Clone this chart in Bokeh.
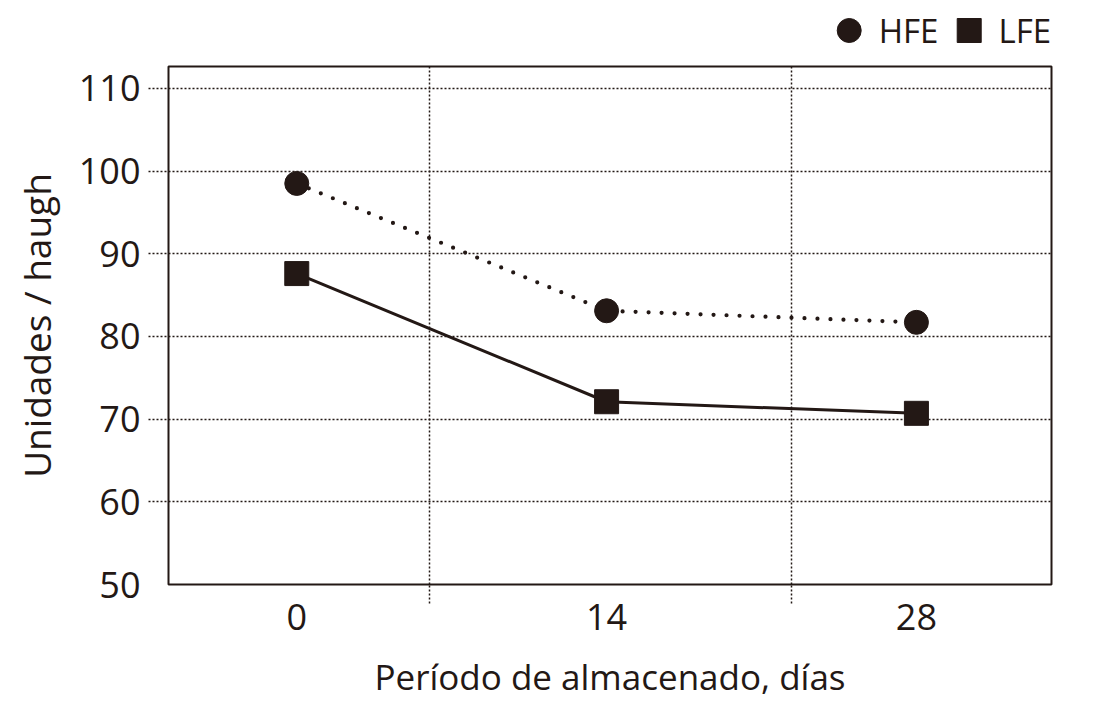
from bokeh.plotting import figure
from bokeh.layouts import column
from bokeh.models import LinearAxis, FixedTicker, Range1d, Legend, LegendItem
from bokeh.embed import file_html
from bokeh.resources import INLINE

# ---- data ----
days = ["0", "14", "28"]
hfe = [98.5, 83.1, 81.7]
lfe = [87.6, 72.1, 70.7]
y_ticks = [50, 60, 70, 80, 90, 100, 110]
series_names = ["HFE", "LFE"]

INK = "#231815"
FONT = "Open Sans"
GRID_X = [0.4285, 1.597]
x = list(range(len(days)))
W = 1070
LB, RB = 168, 19

p = figure(width=W, height=657, output_backend="svg", toolbar_location=None,
           x_range=Range1d(-0.414, 2.436), y_range=Range1d(50, 112.64),
           min_border_left=LB, min_border_right=RB, min_border_top=10,
           min_border_bottom=129)
p.background_fill_color = "white"
p.border_fill_color = "white"
p.outline_line_color = INK
p.outline_line_width = 2

# grids
p.xgrid.ticker = FixedTicker(ticks=GRID_X)
p.ygrid.ticker = FixedTicker(ticks=y_ticks[1:])
for g in (p.xgrid, p.ygrid):
    g.grid_line_color = INK
    g.grid_line_dash = "2 2"
    g.grid_line_width = 1.5

# tick-only axes (extension of the dotted grid lines)
ax = p.xaxis[0]
ax.ticker = FixedTicker(ticks=GRID_X)
ax.major_label_overrides = {t: "" for t in GRID_X}
ay = p.yaxis[0]
ay.ticker = FixedTicker(ticks=y_ticks[1:])
ay.major_label_overrides = {t: "" for t in y_ticks[1:]}
for a, out in ((ax, 19), (ay, 20)):
    a.major_tick_out = out
    a.major_tick_in = 0
    a.major_tick_line_dash = "2 2"
    a.major_tick_line_width = 1.5
    a.major_tick_line_color = INK
    a.minor_tick_line_color = None
    a.axis_line_color = None
    a.major_label_text_font_size = "1px"
    a.major_label_text_color = None
    a.major_label_standoff = 0

# label axes
xa2 = LinearAxis(ticker=FixedTicker(ticks=x),
                 major_label_overrides={i: d for i, d in zip(x, days)},
                 axis_label="Período de almacenado, días")
ya2 = LinearAxis(ticker=FixedTicker(ticks=y_ticks), axis_label="Unidades / haugh")
for a in (xa2, ya2):
    a.major_tick_out = 0
    a.major_tick_in = 0
    a.minor_tick_line_color = None
    a.axis_line_color = None
    a.major_tick_line_color = None
    a.major_label_text_font = FONT
    a.major_label_text_font_size = "36px"
    a.major_label_text_color = INK
    a.axis_label_text_font = FONT
    a.axis_label_text_font_style = "normal"
    a.axis_label_text_color = INK
xa2.axis_label_text_font_size = "35px"
ya2.axis_label_text_font_size = "37px"
xa2.major_label_standoff = 0
xa2.axis_label_standoff = 20
ya2.major_label_standoff = 8
ya2.axis_label_standoff = 14
p.add_layout(xa2, "below")
p.add_layout(ya2, "left")

# series
p.line(x, hfe, line_dash="0 13", line_cap="round", line_width=4.2, line_color=INK)
p.line(x, lfe, line_width=3, line_color=INK)
p.scatter(x, hfe, marker="circle", size=24, fill_color=INK, line_color=INK)
p.scatter(x, lfe, marker="square", size=24, fill_color=INK, line_color=INK)

# legend strip above the chart (swatch renderers sit outside the visible range)
lg = figure(width=W, height=56, output_backend="svg", toolbar_location=None,
            x_axis_type=None, y_axis_type=None,
            x_range=Range1d(0, 1), y_range=Range1d(0, 1),
            min_border_left=LB, min_border_right=RB, min_border_top=0,
            min_border_bottom=0)
lg.outline_line_color = None
lg.grid.visible = False
lg.background_fill_color = "white"
lg.border_fill_color = "white"
l1 = lg.scatter([-9], [-9], marker="circle", size=24, fill_color=INK, line_color=INK)
l2 = lg.scatter([-9], [-9], marker="square", size=24, fill_color=INK, line_color=INK)
legend = Legend(items=[LegendItem(label=series_names[0], renderers=[l1]),
                       LegendItem(label=series_names[1], renderers=[l2])],
                orientation="horizontal", location="top_right",
                glyph_width=60, glyph_height=60, label_standoff=0, spacing=0,
                padding=0, margin=0, border_line_color=None,
                background_fill_alpha=0, label_text_font=FONT,
                label_text_font_size="33px", label_text_color=INK)
lg.add_layout(legend)

open("out.html", "w").write(file_html(column(lg, p, spacing=0), INLINE))
